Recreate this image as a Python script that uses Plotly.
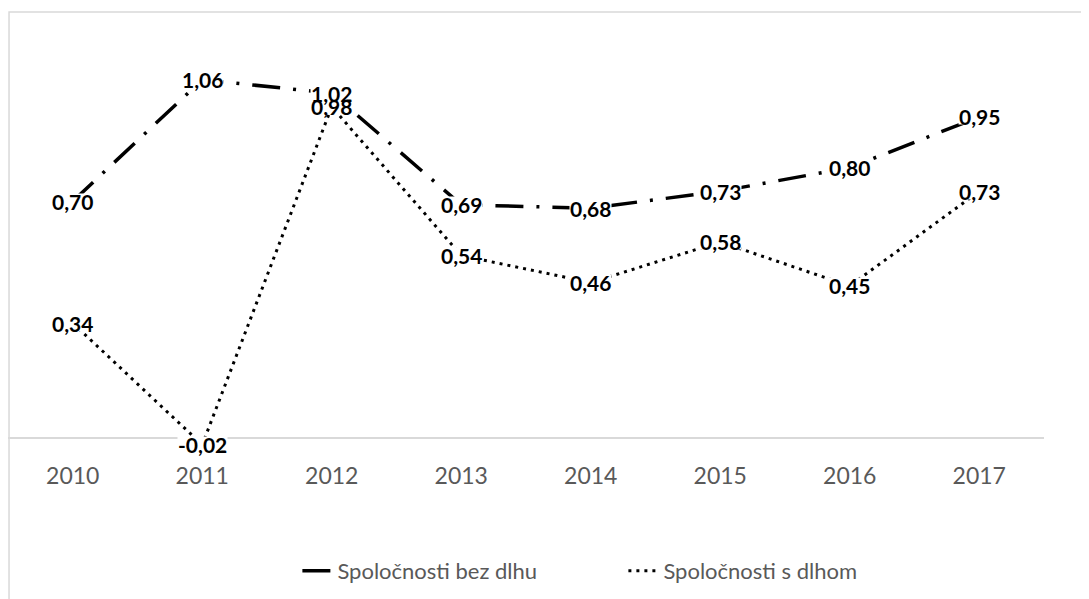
import plotly.graph_objects as go

years = ["2010", "2011", "2012", "2013", "2014", "2015", "2016", "2017"]
bez_dlhu = [0.70, 1.06, 1.02, 0.69, 0.68, 0.73, 0.80, 0.95]
s_dlhom = [0.34, -0.02, 0.98, 0.54, 0.46, 0.58, 0.45, 0.73]

FONT = "Lato"

fig = go.Figure()

fig.add_trace(go.Scatter(
    x=years, y=bez_dlhu, mode="lines", name="Spoločnosti bez dlhu",
    line=dict(color="black", width=3.5, dash="28px,13px,3px,13px"),
))
fig.add_trace(go.Scatter(
    x=years, y=s_dlhom, mode="lines", name="Spoločnosti s dlhom",
    line=dict(color="black", width=3, dash="3px,5px"),
))

# data labels centred on the points (category axis -> x is the index)
# first pass: tight white boxes that hide the lines under the labels
# second pass: the label texts themselves, transparent so overlapping ones stay readable
for series in (bez_dlhu, s_dlhom):
    for i, v in enumerate(series):
        fig.add_annotation(
            x=i, y=v, text=f"{v:.2f}".replace(".", ","),
            showarrow=False, bgcolor="white", borderpad=0, height=15,
            font=dict(family=FONT, size=21, color="white", weight="bold"),
            xanchor="center", yanchor="middle",
        )
for series in (bez_dlhu, s_dlhom):
    for i, v in enumerate(series):
        fig.add_annotation(
            x=i, y=v, text=f"{v:.2f}".replace(".", ","),
            showarrow=False, borderpad=0,
            font=dict(family=FONT, size=21, color="black", weight="bold"),
            xanchor="center", yanchor="middle",
        )

# chart border (runs off the right and bottom like the reference)
fig.add_shape(type="rect", xref="paper", yref="paper",
              x0=0.001, x1=1.2, y0=-0.6, y1=1.0667,
              line=dict(color="#d9d9d9", width=1.5), layer="below")

fig.update_xaxes(
    type="category", range=[-0.5, 7.5], automargin=False,
    showgrid=False, showline=False, ticks="",
    tickfont=dict(family=FONT, size=23, color="#595959"),
)
fig.update_yaxes(
    range=[-0.0651, 1.1775], showgrid=False, showticklabels=False,
    automargin=False,
    zeroline=True, zerolinecolor="#d9d9d9", zerolinewidth=1.5,
)

fig.update_layout(
    width=1089, height=599,
    margin=dict(l=0, r=53, t=32, b=147),
    plot_bgcolor="white", paper_bgcolor="white",
    legend=dict(
        orientation="h", x=0.594, xanchor="center", y=-0.264, yanchor="middle",
        font=dict(family=FONT, size=22, color="#595959"),
        entrywidth=281, entrywidthmode="pixels",
    ),
)

fig.write_html("out.html")
